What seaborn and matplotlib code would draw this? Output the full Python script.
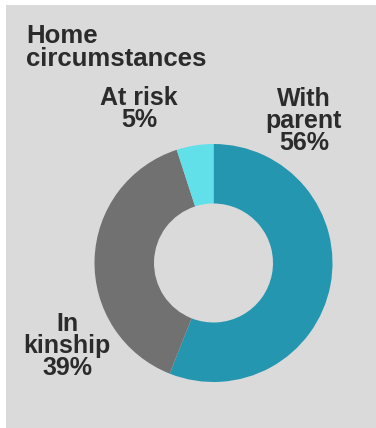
import matplotlib
matplotlib.use("Agg")
import matplotlib.pyplot as plt
from matplotlib.patches import Rectangle
import seaborn as sns

sns.set_style("white")
plt.rcParams["font.family"] = ["Liberation Sans", "DejaVu Sans"]

title = "Home\ncircumstances"
categories = ["With\nparent", "In\nkinship", "At risk"]
shares = [56, 39, 5]
colors = ["#2496b0", "#717171", "#62e0ea"]

W, H = 376, 428
fig = plt.figure(figsize=(W / 100, H / 100), dpi=100)
fig.patch.set_facecolor("white")
panel_bg = "#dadada"
fig.patches.append(Rectangle((6 / W, 0), 1 - 6 / W, 1 - 5 / H,
                             transform=fig.transFigure, facecolor=panel_bg,
                             edgecolor="none", zorder=-5))

# donut axes
cx, cy, r = 213.5, 263, 119
ax = fig.add_axes([(cx - r) / W, (H - cy - r) / H, 2 * r / W, 2 * r / H])
ax.set_zorder(2)
ax.patch.set_visible(False)
ax.pie(shares, colors=colors, startangle=90, counterclock=False,
       radius=1.0, wedgeprops=dict(width=0.5, edgecolor="none"))
ax.set_xlim(-1, 1)
ax.set_ylim(-1, 1)
ax.set_aspect("equal")
ax.axis("off")

txt = "#2b2b2b"
fs = 18
fig.text(26 / W, 1 - 24 / H, title, ha="left", va="top", fontsize=fs + 0.5,
         fontweight="bold", color=txt, linespacing=0.95, zorder=3)

label_pos = {"With\nparent": (304, 121), "In\nkinship": (67, 346), "At risk": (139, 109)}
for cat, val in zip(categories, shares):
    x, y = label_pos[cat]
    fig.text(x / W, 1 - y / H, f"{cat}\n{val}%", ha="center", va="center",
             fontsize=fs, fontweight="bold", color=txt, linespacing=0.9, zorder=3)

fig.savefig("out.png", dpi=100, facecolor=fig.get_facecolor())
